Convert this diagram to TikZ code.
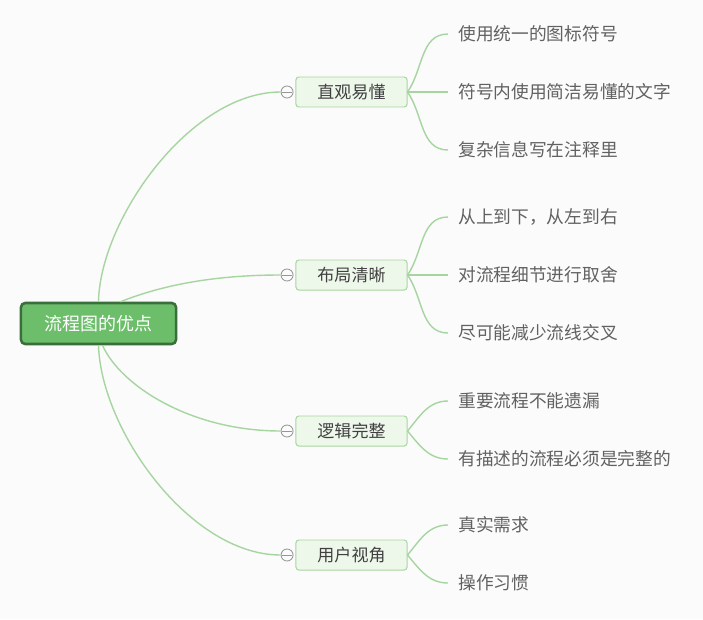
\documentclass[tikz,border=0pt]{standalone}
\usepackage{fontspec}
\newfontfamily\cjk{Noto Sans CJK SC}
\usepackage{tikz}
\usetikzlibrary{positioning}
\definecolor{rootFill}{RGB}{108, 190, 106}
\definecolor{rootLine}{RGB}{58, 110, 59}
\definecolor{topicFill}{RGB}{237, 247, 234}
\definecolor{topicLine}{RGB}{168, 214, 160}
\definecolor{linkGreen}{RGB}{166, 214, 160}
\definecolor{foldGray}{RGB}{150, 150, 150}
\definecolor{pageBg}{RGB}{251, 251, 251}

\begin{document}
\begin{tikzpicture}[x=0.025cm, y=-0.025cm, font=\cjk,
  root/.style={draw=rootLine, line width=1.8pt, rounded corners=3pt, fill=rootFill,
    text=white, font=\cjk\fontsize{12.8}{15}\selectfont,
    minimum width=3.875cm, minimum height=1.025cm},
  topic/.style={draw=topicLine, line width=0.7pt, rounded corners=2pt, fill=topicFill,
    text=black!75, font=\cjk\fontsize{12.1}{14}\selectfont,
    minimum width=2.775cm, minimum height=0.75cm},
  fold/.style={circle, draw=foldGray, line width=0.6pt, fill=pageBg,
    minimum size=0.3cm, inner sep=0pt},
  leaf/.style={anchor=west, inner xsep=0.25cm, inner ysep=2pt,
    text=black!62, font=\cjk\fontsize{12.6}{14}\selectfont},
  link/.style={draw=linkGreen, line width=1pt}]
  \fill[pageBg] (0,0) rectangle (703,619);
  \useasboundingbox (0,0) rectangle (703,619);

  % main topic
  \node[root] (root) at (98.5,323.5) {流程图的优点};

  % branches
  \node[topic] (b1) at (351.5,92) {直观易懂};
  \node[topic] (b2) at (351.5,275) {布局清晰};
  \node[topic] (b3) at (351.5,431) {逻辑完整};
  \node[topic] (b4) at (351.5,555) {用户视角};

  \node[fold, left=0.05cm of b1] (f1) {};
  \node[fold, left=0.05cm of b2] (f2) {};
  \node[fold, left=0.05cm of b3] (f3) {};
  \node[fold, left=0.05cm of b4] (f4) {};
  \foreach \f in {f1,f2,f3,f4}
    \draw[foldGray, line width=0.6pt] ([xshift=1.2pt]\f.west) -- ([xshift=-1.2pt]\f.east);

  % leaves
  \node[leaf] (l11) at (448,34) {使用统一的图标符号};
  \node[leaf] (l12) at (448,92) {符号内使用简洁易懂的文字};
  \node[leaf] (l13) at (448,150) {复杂信息写在注释里};
  \node[leaf] (l21) at (448,217) {从上到下，从左到右};
  \node[leaf] (l22) at (448,275) {对流程细节进行取舍};
  \node[leaf] (l23) at (448,333) {尽可能减少流线交叉};
  \node[leaf] (l31) at (448,401) {重要流程不能遗漏};
  \node[leaf] (l32) at (448,459) {有描述的流程必须是完整的};
  \node[leaf] (l41) at (448,525) {真实需求};
  \node[leaf] (l42) at (448,583) {操作习惯};

  % root to branches
  \draw[link] (root.north) .. controls (100,220) and (190,92) .. (f1.west);
  \draw[link] ([xshift=0.55cm]root.north) .. controls (150,290) and (200,275) .. (f2.west);
  \draw[link] ([xshift=0.1cm]root.south) .. controls (120,385) and (190,431) .. (f3.west);
  \draw[link] (root.south) .. controls (101,430) and (190,555) .. (f4.west);

  % branches to leaves
  \draw[link] (b1.east) to[out=55, in=180] (l11.west);
  \draw[link] (b1.east) -- (l12.west);
  \draw[link] (b1.east) to[out=-55, in=180] (l13.west);
  \draw[link] (b2.east) to[out=55, in=180] (l21.west);
  \draw[link] (b2.east) -- (l22.west);
  \draw[link] (b2.east) to[out=-55, in=180] (l23.west);
  \draw[link] (b3.east) to[out=50, in=180] (l31.west);
  \draw[link] (b3.east) to[out=-50, in=180] (l32.west);
  \draw[link] (b4.east) to[out=50, in=180] (l41.west);
  \draw[link] (b4.east) to[out=-50, in=180] (l42.west);
\end{tikzpicture}
\end{document}
